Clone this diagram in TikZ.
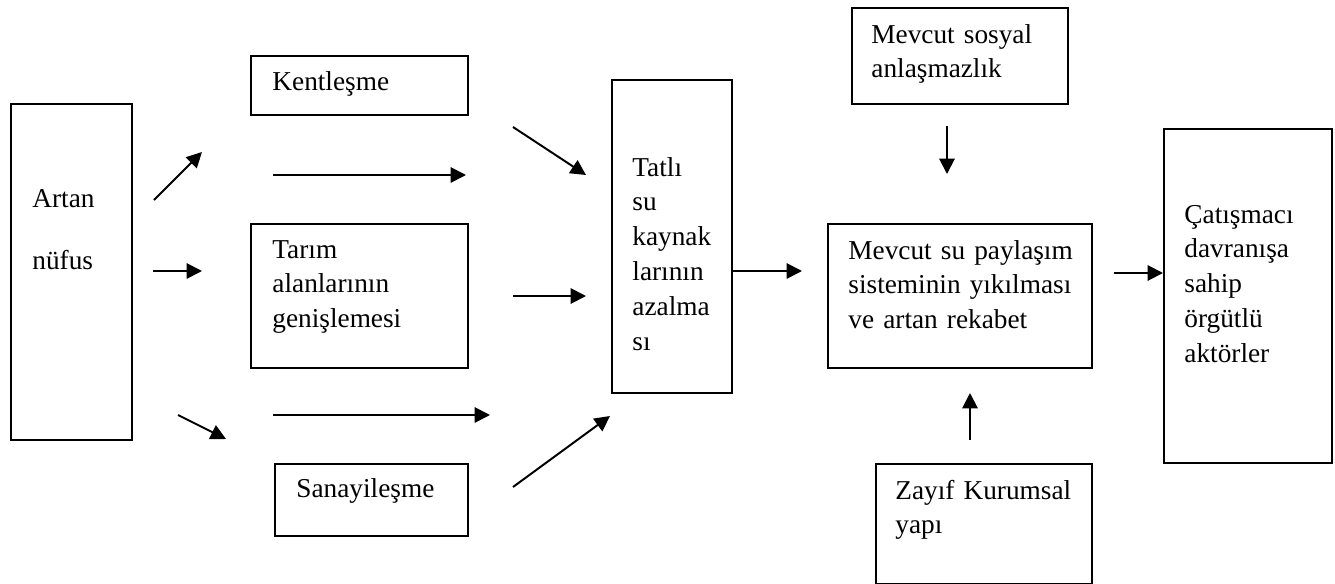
\documentclass[tikz,border=0pt]{standalone}
\usepackage{fontspec}
\setmainfont{Liberation Serif}
\usepackage{tikz}
\usetikzlibrary{arrows.meta}
\usetikzlibrary{positioning}
\newcommand{\pxu}{0.458pt}
\tikzset{
    kutu/.style = {rectangle, draw=black, line width=0.9pt, inner sep=0pt, anchor=north west},
    yazi/.style = {inner sep=0pt, anchor=base west, align=left, text width=4.5cm, font=\fontsize{12.5}{16}\selectfont},
    ok/.style = {-{Triangle[length=7pt,width=7pt]}, line width=0.9pt},
}

\begin{document}
\begin{tikzpicture}[x=0.458pt, y=-0.458pt]
\useasboundingbox (0,0) rectangle (1335,584);
% kutular
\node[kutu, minimum width=121*\pxu, minimum height=336*\pxu] at (10,103) (artan) {};
\node[kutu, minimum width=217*\pxu, minimum height=59*\pxu] at (250,55) (kent) {};
\node[kutu, minimum width=217*\pxu, minimum height=144*\pxu] at (250,223) (tarim) {};
\node[kutu, minimum width=193*\pxu, minimum height=72*\pxu] at (274,463) (sanayi) {};
\node[kutu, minimum width=120*\pxu, minimum height=313*\pxu] at (611,79) (tatli) {};
\node[kutu, minimum width=216*\pxu, minimum height=96*\pxu] at (851,7) (sosyal) {};
\node[kutu, minimum width=264*\pxu, minimum height=144*\pxu] at (827,223) (mevcut) {};
\node[kutu, minimum width=216*\pxu, minimum height=120*\pxu] at (875,463) (zayif) {};
\node[kutu, minimum width=168*\pxu, minimum height=334*\pxu] at (1163,128) (catis) {};
% yazilar
\node[yazi] at (32,207) (artanT) {Artan\\[12.8pt]nüfus};
\node[yazi] at (272,90) (kentT) {Kentleşme};
\node[yazi] at (272,258) (tarimT) {Tarım\\alanlarının\\genişlemesi};
\node[yazi] at (296,497) (sanayiT) {Sanayileşme};
\node[yazi] at (632,176) (tatliT) {Tatlı\\su\\kaynak\\larının\\azalma\\sı};
\node[yazi] at (871,43) (sosyalT) {Mevcut sosyal\\anlaşmazlık};
\node[yazi] at (848,259) (mevcutT) {Mevcut su paylaşım\\sisteminin yıkılması\\ve artan rekabet};
\node[yazi] at (895,499) (zayifT) {Zayıf Kurumsal\\yapı};
\node[yazi] at (1184,223) (catisT) {Çatışmacı\\davranışa\\sahip\\örgütlü\\aktörler};
% ok uclari
\coordinate (a1s) at (154,200); \coordinate (a1e) at (202,152);
\coordinate (a2s) at (153,271); \coordinate (a2e) at (202,271);
\coordinate (a3s) at (178,415); \coordinate (a3e) at (226,439);
\coordinate (l1s) at (273,175); \coordinate (l1e) at (466,175);
\coordinate (l2s) at (513,296); \coordinate (l2e) at (586,296);
\coordinate (l3s) at (273,415); \coordinate (l3e) at (490,415);
\coordinate (d1s) at (513,127); \coordinate (d1e) at (586,175);
\coordinate (d2s) at (513,487); \coordinate (d2e) at (610,416);
\coordinate (me) at (802,271);
\coordinate (ss) at (947,126); \coordinate (se) at (947,174);
\coordinate (zs) at (970,440); \coordinate (ze) at (970,393);
\coordinate (cs) at (1114,273);
% oklar
\draw[ok] (a1s) -- (a1e);
\draw[ok] (a2s) -- (a2e);
\draw[ok] (a3s) -- (a3e);
\draw[ok] (l1s) -- (l1e);
\draw[ok] (l2s) -- (l2e);
\draw[ok] (l3s) -- (l3e);
\draw[ok] (d1s) -- (d1e);
\draw[ok] (d2s) -- (d2e);
\draw[ok] (tatli.east |- me) -- (me);
\draw[ok] (ss) -- (se);
\draw[ok] (zs) -- (ze);
\draw[ok] (cs) -- (cs -| catis.west);
\end{tikzpicture}
\end{document}
